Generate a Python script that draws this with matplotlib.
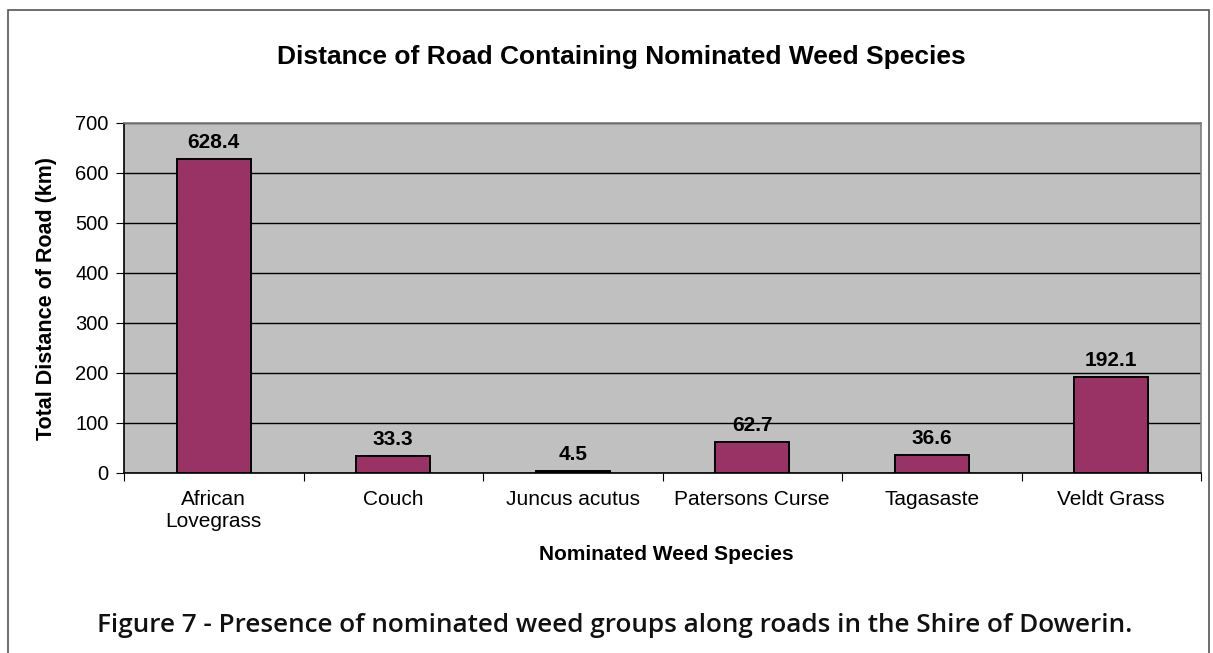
import matplotlib
matplotlib.use("Agg")
import matplotlib.pyplot as plt
from matplotlib.patches import Rectangle

categories = ["African\nLovegrass", "Couch", "Juncus acutus", "Patersons Curse", "Tagasaste", "Veldt Grass"]
values = [628.4, 33.3, 4.5, 62.7, 36.6, 192.1]
yticks = [0, 100, 200, 300, 400, 500, 600, 700]

W, H = 1213, 653
fig = plt.figure(figsize=(W/100, H/100), dpi=100)
fig.patch.set_facecolor("white")

# outer frame
fig.patches.append(Rectangle((8/W, -0.05), (1209-8)/W, 1 - 10/H + 0.05, transform=fig.transFigure,
                             fill=False, edgecolor="#555555", linewidth=1.2))

left, right, top, bottom = 124, 1201, 123, 473
ax = fig.add_axes([left/W, 1 - bottom/H, (right-left)/W, (bottom-top)/H])
ax.set_facecolor("#C0C0C0")
x = list(range(len(categories)))
bars = ax.bar(x, values, width=0.41, color="#993366", edgecolor="black", linewidth=1.4, zorder=3)
ax.set_xlim(-0.5, len(categories) - 0.5)
ax.set_ylim(0, 700)
ax.set_yticks(yticks)
ax.set_yticklabels([str(v) for v in yticks], fontsize=14.5, family="Liberation Sans")
ax.yaxis.grid(True, color="black", linewidth=1.0, zorder=1)
ax.set_axisbelow(True)
ax.set_xticks([i - 0.5 for i in range(len(categories) + 1)], minor=False)
ax.set_xticklabels([])
ax.set_xticks(x, minor=True)
ax.set_xticklabels(categories, minor=True, fontsize=15, family="Liberation Sans", linespacing=1.25)
ax.tick_params(axis="x", which="minor", length=0, pad=12)
ax.tick_params(axis="x", which="major", length=6, direction="out", color="black")
ax.tick_params(axis="y", length=6, direction="out", color="black", pad=5)
for s in ["top", "right"]:
    ax.spines[s].set_color("#808080")
    ax.spines[s].set_linewidth(1.2)
for s in ["left", "bottom"]:
    ax.spines[s].set_color("black")
    ax.spines[s].set_linewidth(1.2)

for xi, v in zip(x, values):
    ax.annotate(f"{v}", (xi, v), xytext=(0, 5), textcoords="offset points",
                ha="center", va="bottom", fontsize=15, fontweight="bold", family="Liberation Sans")

fig.text(47/W, 1 - 299/H, "Total Distance of Road (km)", ha="center", va="center", rotation=90,
         fontsize=15.5, fontweight="bold", family="Liberation Sans")
fig.text(666/W, 1 - 555/H, "Nominated Weed Species", ha="center", va="center",
         fontsize=15, fontweight="bold", family="Liberation Sans")
fig.text(621/W, 1 - 57/H, "Distance of Road Containing Nominated Weed Species", ha="center", va="center",
         fontsize=19, fontweight="bold", family="Liberation Sans")
fig.text(615/W, 1 - 626/H, "Figure 7 - Presence of nominated weed groups along roads in the Shire of Dowerin.",
         ha="center", va="center", fontsize=18.8, fontweight="semibold", family="Open Sans", color="#111111")

fig.savefig("out.png", dpi=100)
